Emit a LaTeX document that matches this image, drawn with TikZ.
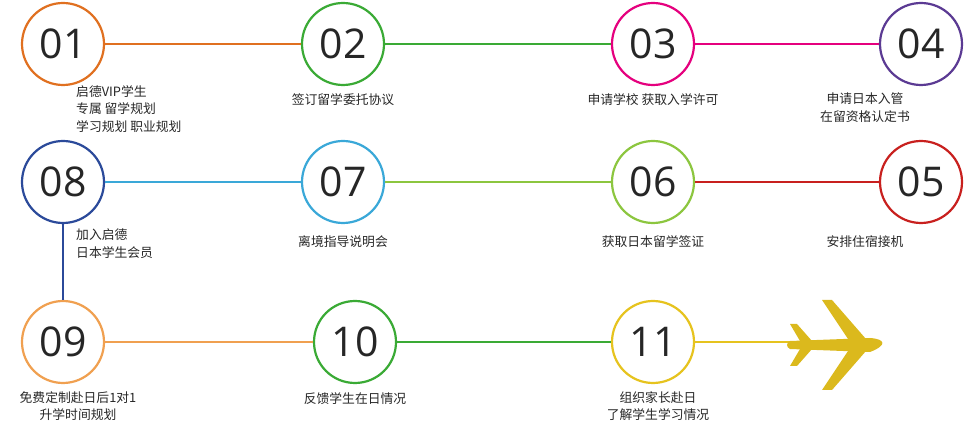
\documentclass[tikz,border=0pt]{standalone}
\usepackage{fontspec}
\setmainfont{Open Sans}
\newfontfamily\cjk{Noto Sans CJK SC}
\definecolor{cA}{HTML}{E07020}
\definecolor{cB}{HTML}{3AAA35}
\definecolor{cC}{HTML}{E5007E}
\definecolor{cD}{HTML}{5B3A93}
\definecolor{cE}{HTML}{C8201E}
\definecolor{cF}{HTML}{8CC63F}
\definecolor{cG}{HTML}{3AA8D8}
\definecolor{cH}{HTML}{2B4A9A}
\definecolor{cI}{HTML}{F0A050}
\definecolor{cK}{HTML}{E6C31E}
\begin{document}
\begin{tikzpicture}[x=1pt,y=-1pt,
  stepc/.style={circle,draw=#1,line width=2.2pt,fill=white,minimum size=82pt,inner sep=0pt,font=\fontsize{41}{41}\selectfont,text=black!85},
  conn/.style={draw=#1,line width=2.6pt},
  lbl/.style={font=\cjk\fontsize{12.8}{17.5}\selectfont,text=black!85,align=center,inner sep=0pt}]
\useasboundingbox (0,0) rectangle (964,427);
\node[stepc=cA] (n1) at (63,44) {01};
\node[stepc=cB] (n2) at (343,44) {02};
\node[stepc=cC] (n3) at (653,44) {03};
\node[stepc=cD] (n4) at (921,44) {04};
\node[stepc=cH] (n8) at (63,182) {08};
\node[stepc=cG] (n7) at (343,182) {07};
\node[stepc=cF] (n6) at (653,182) {06};
\node[stepc=cE] (n5) at (921,182) {05};
\node[stepc=cI] (n9) at (63,342) {09};
\node[stepc=cB] (n10) at (355,342) {10};
\node[stepc=cK] (n11) at (653,342) {11};
\coordinate (pl) at (795,342);
\draw[conn=cA] (n1) -- (n2);
\draw[conn=cB] (n2) -- (n3);
\draw[conn=cC] (n3) -- (n4);
\draw[conn=cE] (n5) -- (n6);
\draw[conn=cF] (n6) -- (n7);
\draw[conn=cG] (n7) -- (n8);
\draw[conn=cH] (n8) -- (n9);
\draw[conn=cI] (n9) -- (n10);
\draw[conn=cB] (n10) -- (n11);
\draw[conn=cK] (n11) -- (pl);
% airplane
\fill[cK!95!black] (790,341) -- (870,338) .. controls (885,339) and (888,345) .. (870,352) -- (790,349) .. controls (786,347) and (786,343) .. (790,341) -- cycle;
\fill[cK!95!black] (848,339) -- (822,300) -- (832,300) -- (866,339) -- cycle;
\fill[cK!95!black] (848,351) -- (822,390) -- (832,390) -- (866,351) -- cycle;
\fill[cK!95!black] (800,341) -- (790,324) -- (797,324) -- (812,341) -- cycle;
\fill[cK!95!black] (800,349) -- (790,366) -- (797,366) -- (812,349) -- cycle;
\node[lbl,align=left,anchor=north west] (l1) at (76,85) {启德VIP学生\\专属 留学规划\\学习规划 职业规划};
\node[lbl,anchor=north] (l2) at (343,93) {签订留学委托协议};
\node[lbl,anchor=north] (l3) at (653,93) {申请学校 获取入学许可};
\node[lbl,anchor=north] (l4) at (865,93) {申请日本入管\\在留资格认定书};
\node[lbl,align=left,anchor=north west] (l8) at (76,229) {加入启德\\日本学生会员};
\node[lbl,anchor=north] (l7) at (343,235) {离境指导说明会};
\node[lbl,anchor=north] (l6) at (653,235) {获取日本留学签证};
\node[lbl,anchor=north] (l5) at (865,235) {安排住宿接机};
\node[lbl,anchor=north] (l9) at (78,391) {免费定制赴日后1对1\\升学时间规划};
\node[lbl,anchor=north] (l10) at (355,392) {反馈学生在日情况};
\node[lbl,anchor=north] (l11) at (658,391) {组织家长赴日\\了解学生学习情况};
\end{tikzpicture}
\end{document}
